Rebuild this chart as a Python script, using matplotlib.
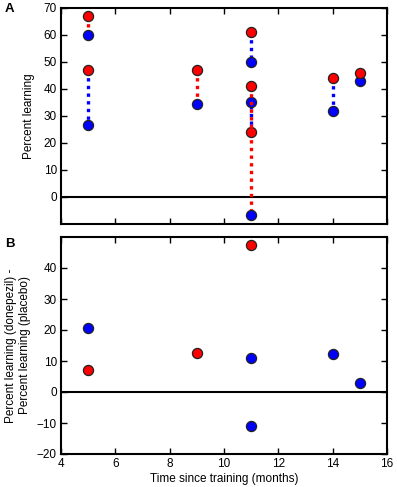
import matplotlib
matplotlib.use("Agg")
import matplotlib.pyplot as plt
import numpy as np

plt.rcParams['font.family'] = ['Liberation Sans', 'DejaVu Sans']
plt.rcParams['font.size'] = 8.5

# Data: each pair = one subject group at a time point
months = [5, 5, 9, 11, 11, 11, 14, 15]
donepezil = [67, 47, 47, 61, 24, 41, 44, 46]
placebo = [60, 26.5, 34.5, 50, 35, -6.5, 31.7, 43]
group = ['red', 'blue', 'red', 'blue', 'blue', 'red', 'blue', 'blue']

colors = {'red': '#ff0000', 'blue': '#0000ff'}

fig = plt.figure(figsize=(3.97, 4.87), dpi=100)
W, H = 397, 487
axA = fig.add_axes([61 / W, 1 - 224 / H, (387 - 61) / W, (224 - 8) / H])
axB = fig.add_axes([61 / W, 1 - 454 / H, (387 - 61) / W, (454 - 237) / H])

ms = 7.3
z = 2
for x, d, p, g in zip(months, donepezil, placebo, group):
    axA.plot([x, x], [d, p], color=colors[g], lw=2.4, linestyle=(0, (1, 1.3)),
             dash_capstyle='butt', zorder=z)
    axA.plot([x], [p], 'o', color='#0000ff', mec='#222222', mew=0.9, ms=ms, zorder=z + 1)
    axA.plot([x], [d], 'o', color='#ff0000', mec='#222222', mew=0.9, ms=ms, zorder=z + 1)
    z += 2

diffs = np.array(donepezil) - np.array(placebo)
for x, dv, g in zip(months, diffs, group):
    axB.plot([x], [dv], 'o', color=colors[g], mec='#222222', mew=0.9, ms=ms, zorder=3)

for ax in (axA, axB):
    ax.axhline(0, color='black', lw=1.5, zorder=1)
    ax.set_xlim(4, 16)
    ax.set_xticks([4, 6, 8, 10, 12, 14, 16])
    ax.tick_params(direction='in', top=True, right=True, length=4, width=1,
                   labelsize=8.5, pad=3)
    for s in ax.spines.values():
        s.set_linewidth(1.5)

axA.set_ylim(-10, 70)
axA.set_yticks([0, 10, 20, 30, 40, 50, 60, 70])
axA.set_xticklabels([])
axA.set_ylabel('Percent learning', fontsize=8.5, labelpad=6)

axB.set_ylim(-20, 50)
axB.set_yticks([-20, -10, 0, 10, 20, 30, 40])
axB.set_yticklabels(['\u221220', '\u221210', '0', '10', '20', '30', '40'])
axB.set_xlabel('Time since training (months)', fontsize=8.5, labelpad=2)
axB.set_ylabel('Percent learning (donepezil) -\nPercent learning (placebo)', fontsize=8.5,
               labelpad=4)

fig.text(5 / W, 1 - 9 / H, 'A', fontsize=9.5, fontweight='bold', va='center')
fig.text(5 / W, 1 - 244 / H, 'B', fontsize=9.5, fontweight='bold', va='center')

fig.savefig('out.png', dpi=100)
